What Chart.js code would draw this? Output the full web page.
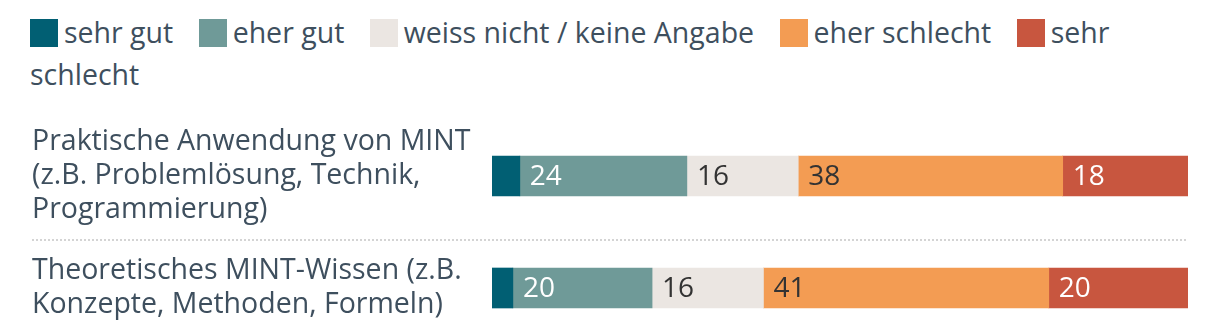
<!DOCTYPE html>
<html>
<head>
<meta charset="utf-8">
<script src="https://cdn.jsdelivr.net/npm/chart.js@4/dist/chart.umd.min.js"></script>
<style>
  html, body { margin: 0; padding: 0; background: #fff; width: 1220px; height: 334px; overflow: hidden; }
  #legend { position: absolute; left: 30px; top: 11px; width: 1110px; font-family: "Open Sans", sans-serif; font-size: 28.5px; line-height: 42px; color: #3e4f5e; }
  #legend .item { margin-right: 18px; }
  #legend .box { display: inline-block; width: 28px; height: 28px; vertical-align: -4px; margin-right: 6px; }
  #wrap { position: absolute; left: 0; top: 100px; }
</style>
</head>
<body>
<div id="legend"></div>
<div id="wrap"><canvas id="popChart" width="1220" height="248"></canvas></div>
<script>
var categories = [
    ["Praktische Anwendung von MINT", "(z.B. Problemlösung, Technik,", "Programmierung)"],
    ["Theoretisches MINT-Wissen (z.B.", "Konzepte, Methoden, Formeln)"]
];
var seriesNames = ["sehr gut", "eher gut", "weiss nicht / keine Angabe", "eher schlecht", "sehr schlecht"];
var sehrGut = [4, 3];
var eherGut = [24, 20];
var weissNicht = [16, 16];
var eherSchlecht = [38, 41];
var sehrSchlecht = [18, 20];

var colors = ["#015f73", "#6f9a98", "#ebe6e2", "#f39c53", "#c8563f"];
var labelColors = ["#ffffff", "#ffffff", "#333333", "#333333", "#ffffff"];
var textColor = "#3e4f5e";
var fontFamily = "'Open Sans', sans-serif";
var labelSize = 28.5;
var labelLineHeight = 1.19;

var values = [sehrGut, eherGut, weissNicht, eherSchlecht, sehrSchlecht];
var datasets = [];
for (var i = 0; i < seriesNames.length; i++) {
    datasets.push({
        label: seriesNames[i],
        data: values[i],
        backgroundColor: colors[i],
        borderWidth: 0,
        barThickness: 40
    });
}

// value labels inside the segments, left aligned
var valueLabels = {
    id: 'valueLabels',
    afterDatasetsDraw: function (chart) {
        var ctx = chart.ctx;
        ctx.save();
        ctx.font = "28px " + fontFamily;
        ctx.textBaseline = 'middle';
        ctx.textAlign = 'left';
        chart.data.datasets.forEach(function (ds, di) {
            var meta = chart.getDatasetMeta(di);
            meta.data.forEach(function (bar, j) {
                var v = ds.data[j];
                if (v < 10) return;
                ctx.fillStyle = labelColors[di];
                ctx.fillText(v, Math.min(bar.base, bar.x) + 10, bar.y + 1);
            });
        });
        ctx.restore();
    }
};

// dotted separator halfway between the label blocks of neighbouring rows
var rowSeparator = {
    id: 'rowSeparator',
    beforeDatasetsDraw: function (chart) {
        var scale = chart.scales.y;
        var lh = labelSize * labelLineHeight;
        var ctx = chart.ctx;
        ctx.save();
        ctx.strokeStyle = '#d4d4d4';
        ctx.lineWidth = 2;
        ctx.setLineDash([2, 2]);
        for (var k = 0; k < categories.length - 1; k++) {
            var bottomA = scale.getPixelForTick(k) + categories[k].length * lh / 2;
            var topB = scale.getPixelForTick(k + 1) - categories[k + 1].length * lh / 2;
            var y = Math.round((bottomA + topB) / 2);
            ctx.beginPath();
            ctx.moveTo(scale.left, y);
            ctx.lineTo(chart.chartArea.right, y);
            ctx.stroke();
        }
        ctx.restore();
    }
};

var popCanvas = document.getElementById('popChart');
var barChart = new Chart(popCanvas, {
    type: 'bar',
    data: { labels: categories, datasets: datasets },
    plugins: [rowSeparator, valueLabels],
    options: {
        indexAxis: 'y',
        responsive: false,
        animation: false,
        layout: { padding: { left: 32, right: 32, top: 20, bottom: 4 } },
        plugins: { legend: { display: false }, tooltip: { enabled: false } },
        scales: {
            x: { stacked: true, min: 0, max: 100, display: false },
            y: {
                stacked: true,
                offset: true,
                afterFit: function (scale) {
                    scale.width = 460;
                    scale.paddingTop = 0;
                    scale.paddingBottom = 0;
                },
                border: { display: false },
                grid: { display: false },
                ticks: {
                    crossAlign: 'far',
                    padding: 0,
                    color: textColor,
                    font: { family: fontFamily, size: labelSize, lineHeight: labelLineHeight }
                }
            }
        }
    }
});

// html legend built from the chart datasets
var legendHtml = '';
barChart.data.datasets.forEach(function (ds) {
    legendHtml += '<span class="item"><span class="box" style="background:' + ds.backgroundColor + '"></span>' + ds.label + '</span> ';
});
document.getElementById('legend').innerHTML = legendHtml;
</script>
</body>
</html>
